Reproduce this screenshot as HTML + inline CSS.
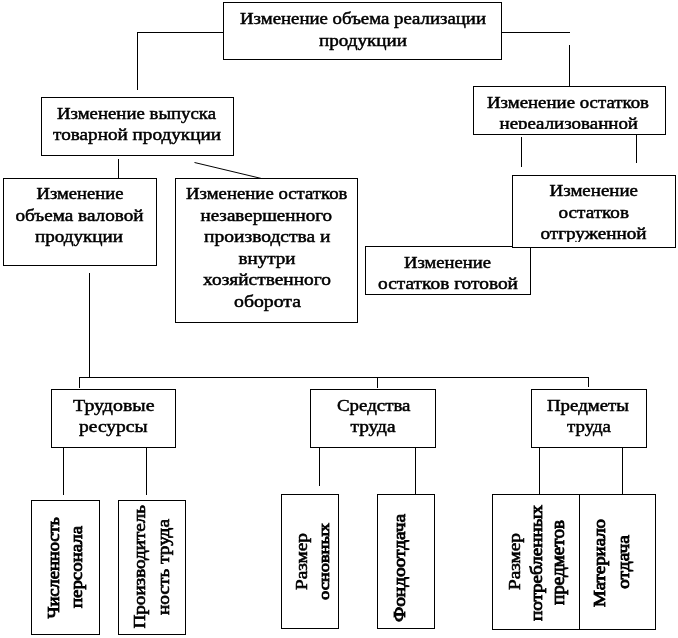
<!DOCTYPE html>
<html lang="ru">
<head>
<meta charset="utf-8">
<title>Схема</title>
<style>
html,body{margin:0;padding:0;background:#fff;}
body{width:678px;height:638px;overflow:hidden;}
body>svg{display:block;will-change:transform;}
text{font-family:"Liberation Serif","DejaVu Serif",serif;font-size:17.4px;fill:#000;stroke:#000;stroke-width:0.5px;}
.v{stroke-width:0.75px;}
.l{stroke:#000;stroke-width:1;fill:none;shape-rendering:crispEdges;}
.d{stroke:#000;stroke-width:1;fill:none;}
.r{stroke:#000;stroke-width:1;fill:#fff;shape-rendering:crispEdges;}
</style>
</head>
<body>
<svg width="678" height="638" viewBox="0 0 678 638">
<rect x="0" y="0" width="678" height="638" fill="#fff"/>
<line class="l" x1="137" y1="32.5" x2="224" y2="32.5"/>
<line class="l" x1="137.5" y1="32" x2="137.5" y2="90"/>
<line class="l" x1="501" y1="32.5" x2="570" y2="32.5"/>
<line class="l" x1="569.5" y1="45" x2="569.5" y2="87"/>
<line class="l" x1="118.5" y1="159" x2="118.5" y2="179"/>
<line class="d" x1="194.5" y1="162.5" x2="261.5" y2="178.5"/>
<line class="l" x1="521.5" y1="137" x2="521.5" y2="167"/>
<line class="l" x1="636.5" y1="135" x2="636.5" y2="163"/>
<line class="l" x1="89.5" y1="273" x2="89.5" y2="378"/>
<line class="l" x1="79" y1="377.5" x2="589" y2="377.5"/>
<line class="l" x1="79.5" y1="377" x2="79.5" y2="388"/>
<line class="l" x1="377.5" y1="377" x2="377.5" y2="388"/>
<line class="l" x1="588.5" y1="377" x2="588.5" y2="387"/>
<line class="l" x1="63.5" y1="447" x2="63.5" y2="495"/>
<line class="l" x1="146.5" y1="447" x2="146.5" y2="495"/>
<line class="l" x1="319.5" y1="447" x2="319.5" y2="486"/>
<line class="l" x1="415.5" y1="447" x2="415.5" y2="495"/>
<line class="l" x1="539.5" y1="447" x2="539.5" y2="495"/>
<line class="l" x1="622.5" y1="447" x2="622.5" y2="495"/>
<g>
<rect class="r" x="223.5" y="2.5" width="278" height="57"/>
<svg x="224" y="3" width="277" height="56" viewBox="224 3 277 56" overflow="hidden">
<text x="240" y="24" textLength="246" lengthAdjust="spacingAndGlyphs">Изменение объема реализации</text>
<text x="319" y="46" textLength="88" lengthAdjust="spacingAndGlyphs">продукции</text>
</svg>
</g>
<g>
<rect class="r" x="41.5" y="97.5" width="192" height="58"/>
<svg x="42" y="98" width="191" height="57" viewBox="42 98 191 57" overflow="hidden">
<text x="57" y="119" textLength="159" lengthAdjust="spacingAndGlyphs">Изменение выпуска</text>
<text x="53" y="140" textLength="168" lengthAdjust="spacingAndGlyphs">товарной продукции</text>
</svg>
</g>
<g>
<rect class="r" x="473.5" y="86.5" width="192" height="48"/>
<svg x="474" y="87" width="191" height="42" viewBox="474 87 191 42" overflow="hidden">
<text x="487" y="108" textLength="162" lengthAdjust="spacingAndGlyphs">Изменение остатков</text>
<text x="499.5" y="129" textLength="138.5" lengthAdjust="spacingAndGlyphs">нереализованной</text>
</svg>
</g>
<g>
<rect class="r" x="3.5" y="178.5" width="153" height="87"/>
<svg x="4" y="179" width="152" height="86" viewBox="4 179 152 86" overflow="hidden">
<text x="36.5" y="199" textLength="87.0" lengthAdjust="spacingAndGlyphs">Изменение</text>
<text x="15.5" y="221" textLength="128.0" lengthAdjust="spacingAndGlyphs">объема валовой</text>
<text x="35" y="242" textLength="88" lengthAdjust="spacingAndGlyphs">продукции</text>
</svg>
</g>
<g>
<rect class="r" x="175.5" y="178.5" width="182" height="144"/>
<svg x="176" y="179" width="181" height="143" viewBox="176 179 181 143" overflow="hidden">
<text x="186" y="199" textLength="161.5" lengthAdjust="spacingAndGlyphs">Изменение остатков</text>
<text x="200.5" y="221" textLength="131.5" lengthAdjust="spacingAndGlyphs">незавершенного</text>
<text x="204" y="242" textLength="126.5" lengthAdjust="spacingAndGlyphs">производства и</text>
<text x="238.5" y="264" textLength="57.0" lengthAdjust="spacingAndGlyphs">внутри</text>
<text x="203" y="285" textLength="128" lengthAdjust="spacingAndGlyphs">хозяйственного</text>
<text x="234" y="307" textLength="67" lengthAdjust="spacingAndGlyphs">оборота</text>
</svg>
</g>
<g>
<rect class="r" x="365.5" y="246.5" width="165" height="48"/>
<svg x="366" y="247" width="164" height="43" viewBox="366 247 164 43" overflow="hidden">
<text x="404" y="268" textLength="87" lengthAdjust="spacingAndGlyphs">Изменение</text>
<text x="378" y="289" textLength="140" lengthAdjust="spacingAndGlyphs">остатков готовой</text>
</svg>
</g>
<g>
<rect class="r" x="512.5" y="175.5" width="163" height="72"/>
<svg x="513" y="176" width="162" height="66" viewBox="513 176 162 66" overflow="hidden">
<text x="549.5" y="196" textLength="88.5" lengthAdjust="spacingAndGlyphs">Изменение</text>
<text x="558.5" y="218" textLength="70.5" lengthAdjust="spacingAndGlyphs">остатков</text>
<text x="540.5" y="239" textLength="106.0" lengthAdjust="spacingAndGlyphs">отгруженной</text>
</svg>
</g>
<g>
<rect class="r" x="51.5" y="389.5" width="124" height="58"/>
<svg x="52" y="390" width="123" height="57" viewBox="52 390 123 57" overflow="hidden">
<text x="73" y="411" textLength="81.5" lengthAdjust="spacingAndGlyphs">Трудовые</text>
<text x="79" y="432" textLength="68.5" lengthAdjust="spacingAndGlyphs">ресурсы</text>
</svg>
</g>
<g>
<rect class="r" x="310.5" y="389.5" width="125" height="58"/>
<svg x="311" y="390" width="124" height="57" viewBox="311 390 124 57" overflow="hidden">
<text x="337" y="411" textLength="73.5" lengthAdjust="spacingAndGlyphs">Средства</text>
<text x="350.5" y="432" textLength="45.0" lengthAdjust="spacingAndGlyphs">труда</text>
</svg>
</g>
<g>
<rect class="r" x="531.5" y="389.5" width="115" height="58"/>
<svg x="532" y="390" width="114" height="57" viewBox="532 390 114 57" overflow="hidden">
<text x="547" y="411" textLength="82" lengthAdjust="spacingAndGlyphs">Предметы</text>
<text x="567" y="432" textLength="44" lengthAdjust="spacingAndGlyphs">труда</text>
</svg>
</g>
<g>
<rect class="r" x="31.5" y="500.5" width="68" height="134"/>
<svg x="32" y="501" width="67" height="133" viewBox="32 501 67 133" overflow="hidden">
<text class="v" style="font-size:15.8px;stroke-width:0.85px" transform="translate(58.7 618.5) rotate(-90)" x="0" y="0" textLength="101.5" lengthAdjust="spacingAndGlyphs">Численность</text>
<text class="v" style="font-size:15.8px;stroke-width:0.85px" transform="translate(81.7 608) rotate(-90)" x="0" y="0" textLength="82" lengthAdjust="spacingAndGlyphs">персонала</text>
</svg>
</g>
<g>
<rect class="r" x="118.5" y="500.5" width="67" height="134"/>
<svg x="119" y="501" width="66" height="133" viewBox="119 501 66 133" overflow="hidden">
<text class="v" style="font-size:16px;stroke-width:0.65px" transform="translate(144.7 628.5) rotate(-90)" x="0" y="0" textLength="123.5" lengthAdjust="spacingAndGlyphs">Производитель</text>
<text class="v" style="font-size:16px;stroke-width:0.65px" transform="translate(168.7 615) rotate(-90)" x="0" y="0" textLength="96" lengthAdjust="spacingAndGlyphs">ность труда</text>
</svg>
</g>
<g>
<rect class="r" x="281.5" y="494.5" width="57" height="134"/>
<svg x="282" y="495" width="56" height="133" viewBox="282 495 56 133" overflow="hidden">
<text class="v" style="font-size:15.8px;stroke-width:0.55px" transform="translate(306.8 590) rotate(-90)" x="0" y="0" textLength="57" lengthAdjust="spacingAndGlyphs">Размер</text>
<text class="v" style="font-size:15.6px;stroke-width:0.85px" transform="translate(328.8 600) rotate(-90)" x="0" y="0" textLength="77" lengthAdjust="spacingAndGlyphs">основных</text>
</svg>
</g>
<g>
<rect class="r" x="377.5" y="494.5" width="57" height="134"/>
<svg x="378" y="495" width="56" height="133" viewBox="378 495 56 133" overflow="hidden">
<text class="v" style="font-size:17px;stroke-width:0.85px" transform="translate(404.5 622) rotate(-90)" x="0" y="0" textLength="108" lengthAdjust="spacingAndGlyphs">Фондоотдача</text>
</svg>
</g>
<g>
<rect class="r" x="492.5" y="494.5" width="87" height="135"/>
<svg x="493" y="495" width="86" height="134" viewBox="493 495 86 134" overflow="hidden">
<text class="v" style="font-size:15.8px;stroke-width:0.55px" transform="translate(519.7 590) rotate(-90)" x="0" y="0" textLength="57" lengthAdjust="spacingAndGlyphs">Размер</text>
<text class="v" style="font-size:17.3px;stroke-width:0.85px" transform="translate(542 621) rotate(-90)" x="0" y="0" textLength="116" lengthAdjust="spacingAndGlyphs">потребленных</text>
<text class="v" style="font-size:18px;stroke-width:0.85px" transform="translate(563.5 605) rotate(-90)" x="0" y="0" textLength="85" lengthAdjust="spacingAndGlyphs">предметов</text>
</svg>
</g>
<g>
<rect class="r" x="579.5" y="494.5" width="76" height="135"/>
<svg x="580" y="495" width="75" height="134" viewBox="580 495 75 134" overflow="hidden">
<text class="v" style="font-size:15.8px;stroke-width:0.85px" transform="translate(605 607) rotate(-90)" x="0" y="0" textLength="88" lengthAdjust="spacingAndGlyphs">Материало</text>
<text class="v" style="font-size:16.8px;stroke-width:0.85px" transform="translate(628.8 589) rotate(-90)" x="0" y="0" textLength="54" lengthAdjust="spacingAndGlyphs">отдача</text>
</svg>
</g>
</svg>
</body>
</html>
